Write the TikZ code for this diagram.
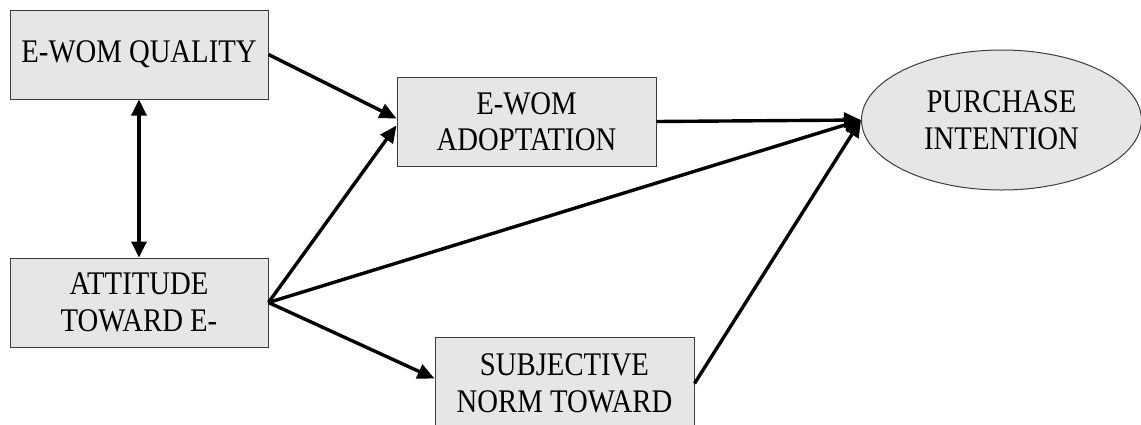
\documentclass[tikz,border=0pt]{standalone}
\usepackage{fontspec}
\setmainfont{Liberation Serif}[FakeStretch=0.87]
\usetikzlibrary{arrows.meta,shapes.geometric}
\definecolor{boxfill}{RGB}{230,230,230}
\definecolor{boxline}{RGB}{60,60,60}
\tikzset{
  construct/.style={draw=boxline, line width=1pt, fill=boxfill, align=center,
    font=\fontsize{33}{36.5}\selectfont, inner sep=0pt},
  stepbox/.style={construct, rectangle, minimum width=258pt, minimum height=89pt},
  outcome/.style={construct, ellipse, minimum width=280pt, minimum height=140pt},
  path/.style={line width=3.4pt, -{Triangle[length=17pt,width=15pt]}},
  both/.style={line width=3.4pt, {Triangle[length=16pt,width=15pt]}-{Triangle[length=16pt,width=15pt]}}
}
\begin{document}
\begin{tikzpicture}[x=1pt,y=-1pt]
  \useasboundingbox (0,0) rectangle (1141,424);
  \clip (0,0) rectangle (1141,424);
  \node[stepbox] (qual) at (139,54.5) {E-WOM QUALITY};
  \node[stepbox] (att) at (139,302.5) {ATTITUDE\\TOWARD E-};
  \node[stepbox, minimum width=259pt] (adopt) at (526.5,121.5) {E-WOM\\ADOPTATION};
  \node[stepbox, minimum width=259pt, minimum height=93pt] (subj) at (564.5,383.5) {SUBJECTIVE\\NORM TOWARD};
  \node[outcome] (pi) at (1001.5,120) {PURCHASE\\INTENTION};

  \draw[both] (qual.south) -- (att.north);
  \draw[path] (qual.east) -- ([yshift=3pt]adopt.west);
  \draw[path] (att.east) -- ([yshift=-4pt]adopt.west);
  \draw[path] (att.east) -- (pi.west);
  \draw[path] (att.east) -- ([yshift=5pt]subj.west);
  \draw[path] (adopt.east) -- (pi.west);
  \draw[path] (subj.east) -- (pi.west);
\end{tikzpicture}
\end{document}
